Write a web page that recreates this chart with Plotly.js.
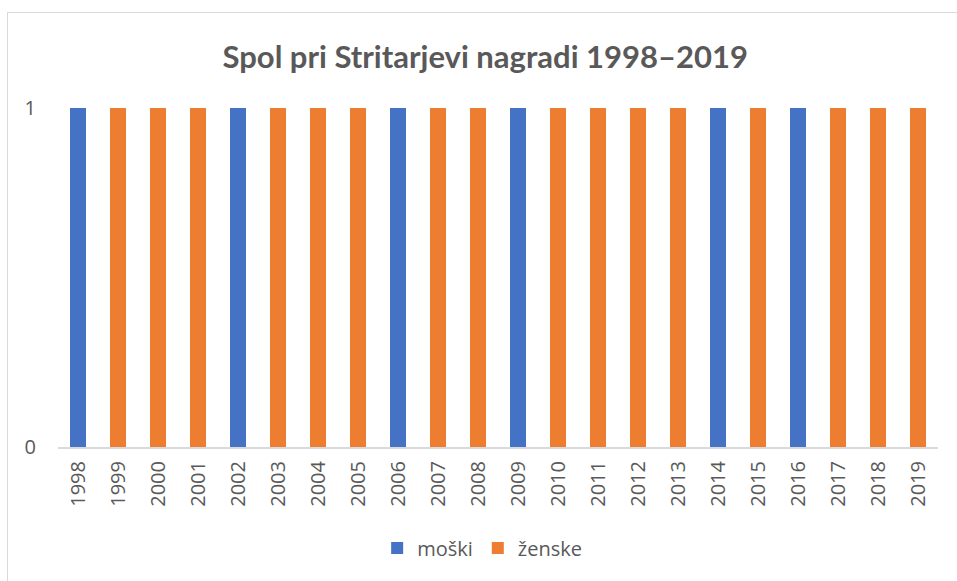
<!DOCTYPE html>
<html>
<head>
<meta charset="utf-8">
<script src="https://cdn.plot.ly/plotly-3.0.1.min.js"></script>
<style>
html,body{margin:0;padding:0;background:#fff;overflow:hidden;}
#chart{width:957px;height:581px;position:absolute;left:0;top:0;}
#frame{position:absolute;left:7px;top:12px;width:980px;height:600px;border:1px solid #d9d9d9;pointer-events:none;}
</style>
</head>
<body>
<div id="chart"></div>
<div id="frame"></div>
<script>
const years = ['1998','1999','2000','2001','2002','2003','2004','2005','2006','2007','2008',
               '2009','2010','2011','2012','2013','2014','2015','2016','2017','2018','2019'];
const moski  = [1,0,0,0,1,0,0,0,1,0,0,1,0,0,0,0,1,0,1,0,0,0];
const zenske = [0,1,1,1,0,1,1,1,0,1,1,0,1,1,1,1,0,1,0,1,1,1];
const seriesNames = ['moški','ženske'];
const yTicks = [0,1];

const titleFont = 'Lato, "Open Sans", sans-serif';
const font = '"Open Sans", Lato, sans-serif';
const traces = [
  {type:'bar', name:seriesNames[0], x:years, y:moski, marker:{color:'#4472c4'}},
  {type:'bar', name:seriesNames[1], x:years, y:zenske, marker:{color:'#ed7d31'}}
];
const layout = {
  width:957, height:581,
  margin:{l:58, r:19, t:108, b:134},
  paper_bgcolor:'rgba(0,0,0,0)', plot_bgcolor:'#fff',
  barmode:'stack', bargap:0.62,
  font:{family:font, color:'#595959'},
  title:{text:'<b>Spol pri Stritarjevi nagradi 1998–2019</b>', font:{size:31, color:'#595959', family:titleFont},
         x:0.507, xanchor:'center', xref:'container', y:1-57/581, yanchor:'middle', yref:'container'},
  xaxis:{type:'category', tickangle:-90, tickfont:{size:20, color:'#595959'}, showline:true,
         linecolor:'#d9d9d9', linewidth:2, ticks:'', showgrid:false, ticklabelstandoff:4},
  yaxis:{range:[0,1], tickvals:yTicks, ticktext:yTicks.map(String), tickfont:{size:20, color:'#595959'},
         showgrid:true, gridcolor:'#d9d9d9', gridwidth:1, zeroline:false, showline:false,
         ticks:'', ticklabelstandoff:21, fixedrange:true},
  showlegend:true,
  legend:{orientation:'h', x:0.482, xanchor:'center', y:-0.298, yanchor:'middle',
          font:{size:20, color:'#595959'}, traceorder:'normal', itemwidth:30}
};
Plotly.newPlot('chart', traces, layout, {staticPlot:true, displayModeBar:false});
</script>
</body>
</html>
